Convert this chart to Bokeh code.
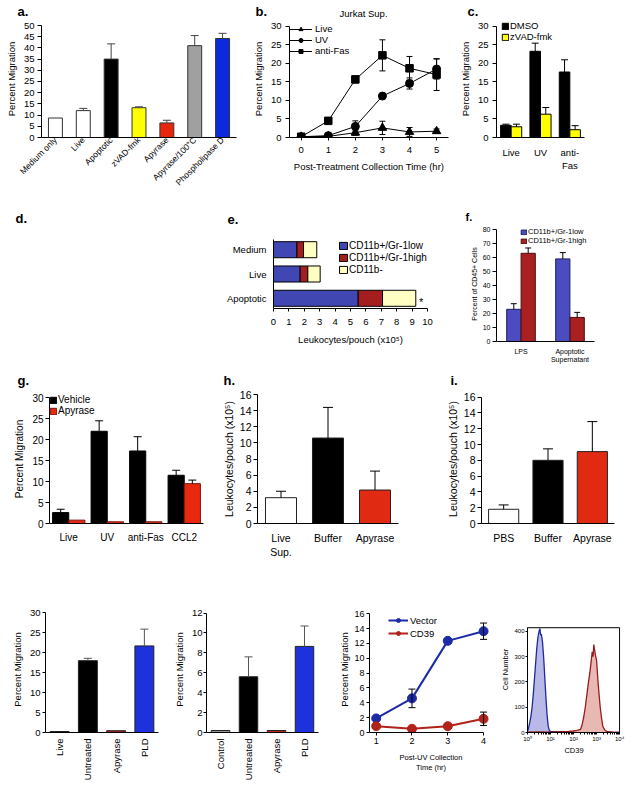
import numpy as np
from math import pi
from bokeh.plotting import figure
from bokeh.models import (ColumnDataSource, FactorRange, Range1d, Whisker, TeeHead, Label,
                          Legend, LegendItem, FixedTicker, BoxAnnotation)
from bokeh.transform import dodge
from bokeh.layouts import row, column
from bokeh.embed import file_html
from bokeh.resources import INLINE
from bokeh.core.properties import value

FONT = "Liberation Sans"

# ---------------- data ----------------
# a
a_cats = ["Medium only", "Live", "Apoptotic", "zVAD-fmk", "Apyrase", "Apyrase/100°C", "Phospholipase D"]
a_vals = [8.7, 12.0, 35.0, 13.3, 6.5, 41.0, 44.2]
a_errs = [0.0, 1.0, 6.8, 0.4, 1.2, 4.5, 2.3]
a_colors = ["white", "white", "black", "#FFFF00", "#E8260C", "#A0A0A0", "#0A2ADB"]
a_yticks = [0, 5, 10, 15, 20, 25, 30, 35, 40, 45, 50]

# b
b_times = [0, 1, 2, 3, 4, 5]
b_live = [0.2, 0.3, 1.3, 2.6, 1.5, 1.7]
b_live_err = [0.1, 0.3, 0.7, 1.8, 1.2, 0.6]
b_uv = [0.2, 0.5, 3.0, 11.2, 14.6, 18.5]
b_uv_err = [0.1, 0.3, 1.5, 0.5, 1.5, 2.7]
b_fas = [0.2, 4.5, 15.7, 22.2, 18.7, 17.0]
b_fas_err = [0.1, 0.6, 0.9, 4.2, 3.2, 4.3]
b_yticks = [0, 5, 10, 15, 20, 25, 30]

# c
c_cats = ["Live", "UV", "anti-\nFas"]
c_dmso = [3.3, 23.3, 17.7]
c_dmso_err = [0.3, 2.2, 3.3]
c_zvad = [2.9, 6.3, 2.1]
c_zvad_err = [0.7, 1.8, 1.1]
c_yticks = [0, 5, 10, 15, 20, 25, 30]

# e
e_cats = ["Medium", "Live", "Apoptotic"]
e_low = [1.52, 1.73, 5.5]
e_high = [0.43, 0.5, 1.58]
e_neg = [0.86, 0.8, 2.16]
e_series = ["CD11b+/Gr-1low", "CD11b+/Gr-1high", "CD11b-"]
e_colors = ["#4046B2", "#A51E1E", "#FFFFC4"]
e_xticks = [0, 1, 2, 3, 4, 5, 6, 7, 8, 9, 10]

# f
f_cats = ["LPS", "Apoptotic\nSupernatant"]
f_low = [23.0, 59.0]
f_low_err = [4.0, 4.5]
f_high = [63.0, 17.2]
f_high_err = [3.8, 3.6]
f_yticks = [0, 10, 20, 30, 40, 50, 60, 70, 80]

# g
g_cats = ["Live", "UV", "anti-Fas", "CCL2"]
g_veh = [2.6, 22.0, 17.3, 11.5]
g_veh_err = [0.8, 2.5, 3.4, 1.2]
g_apy = [0.8, 0.4, 0.4, 9.5]
g_apy_err = [0.0, 0.0, 0.0, 0.85]
g_yticks = [0, 5, 10, 15, 20, 25, 30]

# h
h_cats = ["Live\nSup.", "Buffer", "Apyrase"]
h_vals = [3.2, 10.6, 4.15]
h_errs = [0.8, 3.8, 2.35]
h_colors = ["white", "black", "#E02A12"]
h_yticks = [0, 2, 4, 6, 8, 10, 12, 14, 16]

# i
i_cats = ["PBS", "Buffer", "Apyrase"]
i_vals = [1.8, 8.0, 9.1]
i_errs = [0.55, 1.45, 3.8]
i_colors = ["white", "black", "#E02A12"]
i_yticks = [0, 2, 4, 6, 8, 10, 12, 14, 16]

# bottom 1
k1_cats = ["Live", "Untreated", "Apyrase", "PLD"]
k1_vals = [0.25, 18.0, 0.45, 21.7]
k1_errs = [0.0, 0.6, 0.0, 4.2]
k1_colors = ["#202020", "black", "#B02018", "#1E32DC"]
k1_yticks = [0, 5, 10, 15, 20, 25, 30]

# bottom 2
k2_cats = ["Control", "Untreated", "Apyrase", "PLD"]
k2_vals = [0.2, 5.6, 0.2, 8.65]
k2_errs = [0.0, 2.0, 0.0, 2.05]
k2_colors = ["#9A9A9A", "black", "#C0281E", "#1E32DC"]
k2_yticks = [0, 2, 4, 6, 8, 10, 12]

# bottom 3
k3_times = [1, 2, 3, 4]
k3_vector = [1.9, 4.6, 12.35, 13.65]
k3_vector_err = [0.0, 1.25, 0.0, 1.1]
k3_cd39 = [0.85, 0.5, 0.85, 1.85]
k3_cd39_err = [0.0, 0.0, 0.0, 0.9]
k3_yticks = [0, 2, 4, 6, 8, 10, 12, 14, 16]
k3_xticks = [1, 2, 3, 4]

# bottom 4 (flow histogram; x = log10 CD39 intensity)
hist_blue_x = [0.0, 0.05, 0.1, 0.15, 0.2, 0.25, 0.3, 0.35, 0.4, 0.45, 0.5, 0.54, 0.57, 0.6, 0.65,
               0.7, 0.75, 0.8, 0.85, 0.9, 0.95, 1.0, 1.3, 1.6, 2.0, 2.4, 3.0, 3.5, 4.0]
hist_blue_y = [5, 20, 40, 65, 100, 150, 210, 270, 330, 375, 400, 412, 385, 390, 360,
               300, 220, 140, 70, 25, 8, 4, 3, 2, 2, 1, 1, 0, 0]
hist_red_x = [0.0, 0.5, 1.0, 1.5, 1.8, 2.0, 2.15, 2.3, 2.37, 2.44, 2.51, 2.58, 2.65, 2.72, 2.77,
              2.81, 2.85, 2.88, 2.91, 2.94, 3.0, 3.06, 3.11, 3.16, 3.22, 3.27, 3.33, 3.38, 3.5, 3.7, 4.0]
hist_red_y = [1, 2, 1, 3, 4, 6, 8, 12, 30, 60, 100, 150, 200, 245, 285,
              320, 300, 348, 330, 311, 285, 205, 150, 99, 55, 26, 14, 7, 3, 1, 0]
hist_xlabels = {0: "10⁰", 1: "10¹", 2: "10²", 3: "10³", 4: "10⁴"}
hist_yticks = [0, 100, 200, 300, 400]
hist_xmax = 4
hist_ymax = 415

# ---------------- helpers ----------------


def make_fig(box, frame, x_range, y_range):
    fx0, fy0, fx1, fy1 = box
    lx0, ly0, lx1, ly1 = frame
    p = figure(width=fx1 - fx0, height=fy1 - fy0, x_range=x_range, y_range=y_range,
               min_border_left=lx0 - fx0, min_border_right=fx1 - lx1,
               min_border_top=ly0 - fy0, min_border_bottom=fy1 - ly1,
               output_backend="svg", toolbar_location=None, tools="")
    p.outline_line_color = None
    p.xgrid.visible = False
    p.ygrid.visible = False
    return p


def style(p, fs, tick_out=4, standoff=3, label_standoff=4, label_fs=None):
    for ax in p.axis:
        ax.axis_line_color = "black"
        ax.axis_line_width = 1
        ax.major_tick_line_color = "black"
        ax.major_tick_in = 0
        ax.major_tick_out = tick_out
        ax.minor_tick_line_color = None
        ax.major_label_text_font = FONT
        ax.major_label_text_font_size = f"{fs}px"
        ax.major_label_text_color = "black"
        ax.major_label_standoff = standoff
        ax.axis_label_text_font = FONT
        ax.axis_label_text_font_size = f"{label_fs or fs}px"
        ax.axis_label_text_font_style = "normal"
        ax.axis_label_text_color = "black"
        ax.axis_label_standoff = label_standoff


def add_err(p, xs, vals, errs, offset=0.0, color="black", head=7, both=False, width=1):
    idx = [i for i, e in enumerate(errs) if e > 0]
    src = ColumnDataSource(dict(x=[xs[i] for i in idx],
                                lo=[(vals[i] - errs[i]) if both else vals[i] for i in idx],
                                hi=[vals[i] + errs[i] for i in idx]))
    base = dodge("x", offset, range=p.x_range) if offset else "x"
    w = Whisker(base=base, lower="lo", upper="hi", source=src, line_color=color, line_width=width,
                upper_head=TeeHead(size=head, line_color=color, line_width=width),
                lower_head=TeeHead(size=head, line_color=color, line_width=width) if both else None,
                level="annotation")
    p.add_layout(w)


def legend(p, items, fs, location, glyph_w, glyph_h, label_h, standoff=3, padding=0, spacing=0):
    lg = Legend(items=items, location=location, padding=int(padding), spacing=int(spacing), margin=0,
                glyph_width=int(glyph_w), glyph_height=int(glyph_h), label_height=int(label_h),
                label_standoff=int(standoff),
                label_text_font=FONT, label_text_font_size=f"{fs}px", label_text_color="black",
                border_line_color=None, background_fill_alpha=0)
    p.add_layout(lg)


def strip(width, height, items):
    """A text-only band (panel letters). items: (x, text, font_px, bold, baseline_from_top, align)."""
    s = figure(width=width, height=height, x_range=Range1d(0, width), y_range=Range1d(0, height),
               min_border=0, min_border_left=0, min_border_right=0, min_border_top=0, min_border_bottom=0,
               x_axis_location=None, y_axis_location=None, title=None,
               output_backend="svg", toolbar_location=None, tools="")
    s.outline_line_color = None
    s.xgrid.visible = False
    s.ygrid.visible = False
    for (x, txt, fs, bold, base, align) in items:
        top = max(base - 1.0 * fs, 0.0)
        s.add_layout(Label(x=x, y=height - top, x_units="screen", y_units="screen", text=txt,
                           text_font=FONT, text_font_size=f"{fs}px",
                           text_font_style="bold" if bold else "normal",
                           text_align=align, text_baseline="top", text_color="black"))
    return row(s)


# ======================= ROW 1 (y 0..210) =======================
strip1 = strip(632, 19, [(17, "a.", 13, True, 16.3, "left"),
                         (255, "b.", 13, True, 16.0, "left"),
                         (363, "Jurkat Sup.", 9.5, False, 16.5, "center"),
                         (467, "c.", 13, True, 16.0, "left")])

# panel a
pa = make_fig((0, 19, 245, 210), (41, 20, 236, 137), FactorRange(factors=a_cats), Range1d(0, 52.23))
pa.vbar(x=a_cats, top=a_vals, width=0.5, fill_color=a_colors, line_color="#333333", line_width=1)
add_err(pa, a_cats, a_vals, a_errs, color="#444444", head=8)
style(pa, 9.5, tick_out=4, standoff=3, label_standoff=4)
pa.yaxis.ticker = FixedTicker(ticks=a_yticks)
pa.yaxis.bounds = (0, 50)
pa.yaxis.axis_label = "Percent Migration"
pa.xaxis.major_label_orientation = pi / 4
pa.xaxis.major_tick_out = 0
pa.xaxis.major_label_standoff = 1
pa.xaxis.major_label_text_font_size = "8.5px"
pa.xaxis.major_label_text_line_height = 0.8

# panel b
pb = make_fig((245, 19, 455, 210), (289, 20, 448, 137), Range1d(-0.432, 5.44), Range1d(0, 31.62))
add_err(pb, b_times, b_live, b_live_err, both=True, head=6)
add_err(pb, b_times, b_uv, b_uv_err, both=True, head=6)
add_err(pb, b_times, b_fas, b_fas_err, both=True, head=6)
lb1 = pb.line(b_times, b_live, line_color="black", line_width=1)
sb1 = pb.scatter(b_times, b_live, marker="triangle", size=8.5, color="black")
lb2 = pb.line(b_times, b_uv, line_color="black", line_width=1)
sb2 = pb.scatter(b_times, b_uv, marker="circle", size=8, color="black")
lb3 = pb.line(b_times, b_fas, line_color="black", line_width=1)
sb3 = pb.scatter(b_times, b_fas, marker="square", size=7.5, color="black")
style(pb, 9.5, tick_out=4, standoff=4, label_standoff=4)
pb.yaxis.ticker = FixedTicker(ticks=b_yticks)
pb.yaxis.bounds = (0, 30)
pb.yaxis.axis_label = "Percent Migration"
pb.xaxis.ticker = FixedTicker(ticks=b_times)
pb.xaxis.major_tick_out = 3
pb.xaxis.major_label_standoff = 6
pb.xaxis.axis_label = "Post-Treatment Collection Time (hr)"
pb.xaxis.axis_label_standoff = 5
legend(pb, [LegendItem(label="Live", renderers=[lb1, sb1]),
            LegendItem(label="UV", renderers=[lb2, sb2]),
            LegendItem(label="anti-Fas", renderers=[lb3, sb3])],
       9.5, (0, 81), 23, 10, 10, standoff=3)

# panel c
pc = make_fig((455, 19, 632, 210), (496, 20, 584, 137), FactorRange(factors=c_cats), Range1d(0, 31.62))
src_c = ColumnDataSource(dict(cat=c_cats, dmso=c_dmso, zvad=c_zvad))
rc1 = pc.vbar(x=dodge("cat", -0.18, range=pc.x_range), top="dmso", width=0.36, source=src_c,
              fill_color="black", line_color="black")
rc2 = pc.vbar(x=dodge("cat", 0.18, range=pc.x_range), top="zvad", width=0.36, source=src_c,
              fill_color="#FFFF00", line_color="black")
add_err(pc, c_cats, c_dmso, c_dmso_err, offset=-0.18, head=7)
add_err(pc, c_cats, c_zvad, c_zvad_err, offset=0.18, head=7)
style(pc, 9.5, tick_out=4, standoff=4, label_standoff=4)
pc.yaxis.ticker = FixedTicker(ticks=c_yticks)
pc.yaxis.bounds = (0, 30)
pc.yaxis.axis_label = "Percent Migration"
pc.xaxis.major_tick_out = 0
pc.xaxis.major_label_standoff = 9
legend(pc, [LegendItem(label="DMSO", renderers=[rc1]), LegendItem(label="zVAD-fmk", renderers=[rc2])],
       9.5, (5, 95), 8, 8, 10, standoff=1)

row1 = column(strip1, row(pa, pb, pc))

# ======================= ROW 2 (y 210..368) =======================
strip_de = strip(455, 20, [(15, "d.", 13, True, 11.7, "left"),
                           (227, "e.", 13, True, 17.0, "left")])
pe = make_fig((0, 230, 455, 368), (273, 239, 427, 308), Range1d(0, 10),
              FactorRange(factors=e_cats[::-1], range_padding=-0.0533))
src_e = ColumnDataSource(dict(cat=e_cats, low=e_low, high=e_high, neg=e_neg))
re = pe.hbar_stack(["low", "high", "neg"], y="cat", height=0.66, source=src_e,
                   fill_color=e_colors, line_color="black", line_width=1)
star_x = [e_low[2] + e_high[2] + e_neg[2] + 0.2]
pe.text(x=star_x, y=[e_cats[2]], text=["*"], text_font=value(FONT), text_font_size="11px",
        text_baseline="middle", text_align="left", y_offset=4)
style(pe, 9.5, tick_out=3, standoff=7, label_standoff=6)
pe.xaxis.ticker = FixedTicker(ticks=e_xticks)
pe.xaxis.axis_label = "Leukocytes/pouch (x10⁵)"
pe.yaxis.major_tick_out = 0
pe.yaxis.major_label_standoff = 7
legend(pe, [LegendItem(label=s, renderers=[r]) for s, r in zip(e_series, re)],
       10, (65, 33), 10, 9, 12, standoff=1)
col_de = column(strip_de, pe)

strip_f = strip(177, 14, [(10, "f.", 11, True, 11.7, "left")])
pf = make_fig((455, 224, 632, 368), (496, 226, 594, 341), FactorRange(factors=f_cats), Range1d(0, 82.14))
src_f = ColumnDataSource(dict(cat=f_cats, low=f_low, high=f_high))
rf1 = pf.vbar(x=dodge("cat", -0.147, range=pf.x_range), top="low", width=0.29, source=src_f,
              fill_color="#4A4CC0", line_color="#1E1E5A")
rf2 = pf.vbar(x=dodge("cat", 0.147, range=pf.x_range), top="high", width=0.29, source=src_f,
              fill_color="#A82020", line_color="#4A0E0E")
add_err(pf, f_cats, f_low, f_low_err, offset=-0.147, head=6)
add_err(pf, f_cats, f_high, f_high_err, offset=0.147, head=6)
style(pf, 7, tick_out=4, standoff=2, label_standoff=2)
pf.yaxis.ticker = FixedTicker(ticks=f_yticks)
pf.yaxis.bounds = (0, 80)
pf.yaxis.axis_label = "Percent of CD45+ Cells"
pf.xaxis.major_tick_out = 0
pf.xaxis.major_label_standoff = 6
legend(pf, [LegendItem(label=e_series[0], renderers=[rf1]), LegendItem(label=e_series[1], renderers=[rf2])],
       7.5, (24, 96), 7, 6, 9, standoff=1)
col_f = column(strip_f, pf)

row2 = row(col_de, col_f)

# ======================= ROW 3 (y 368..560) =======================
strip3 = strip(632, 20, [(17, "g.", 13, True, 17.0, "left"),
                         (223, "h.", 13, True, 17.0, "left"),
                         (450, "i.", 13, True, 17.0, "left")])

pg = make_fig((0, 388, 215, 560), (49, 394, 203, 526), FactorRange(factors=g_cats), Range1d(0, 30.77))
src_g = ColumnDataSource(dict(cat=g_cats, veh=g_veh, apy=g_apy))
rg1 = pg.vbar(x=dodge("cat", -0.21, range=pg.x_range), top="veh", width=0.42, source=src_g,
              fill_color="black", line_color="black")
rg2 = pg.vbar(x=dodge("cat", 0.21, range=pg.x_range), top="apy", width=0.42, source=src_g,
              fill_color="#E8280F", line_color="#7A1408")
add_err(pg, g_cats, g_veh, g_veh_err, offset=-0.21, head=8)
add_err(pg, g_cats, g_apy, g_apy_err, offset=0.21, head=8)
style(pg, 10, tick_out=4, standoff=2, label_standoff=4)
pg.yaxis.ticker = FixedTicker(ticks=g_yticks)
pg.yaxis.bounds = (0, 30)
pg.yaxis.axis_label = "Percent Migration"
pg.xaxis.major_tick_out = 0
pg.xaxis.major_label_standoff = 8
legend(pg, [LegendItem(label="Vehicle", renderers=[rg1]), LegendItem(label="Apyrase", renderers=[rg2])],
       10, "top_left", 8, 8, 10, standoff=1, padding=2)

ph = make_fig((215, 388, 420, 560), (257, 394, 398, 526), FactorRange(factors=h_cats), Range1d(0, 16))
ph.vbar(x=h_cats, top=h_vals, width=0.66, fill_color=h_colors, line_color="#222222", line_width=1)
add_err(ph, h_cats, h_vals, h_errs, head=10)
style(ph, 10.5, tick_out=4, standoff=2, label_standoff=2)
ph.yaxis.ticker = FixedTicker(ticks=h_yticks)
ph.yaxis.axis_label = "Leukocytes/pouch (x10⁵)"
ph.xaxis.major_tick_out = 0
ph.xaxis.major_label_standoff = 8

pi_ = make_fig((420, 388, 632, 560), (481, 394, 614, 526), FactorRange(factors=i_cats), Range1d(0, 16.33))
pi_.vbar(x=i_cats, top=i_vals, width=0.68, fill_color=i_colors, line_color="#222222", line_width=1)
add_err(pi_, i_cats, i_vals, i_errs, head=10)
style(pi_, 10.5, tick_out=4, standoff=2, label_standoff=2)
pi_.yaxis.ticker = FixedTicker(ticks=i_yticks)
pi_.yaxis.bounds = (0, 16)
pi_.yaxis.axis_label = "Leukocytes/pouch (x10⁵)"
pi_.xaxis.major_tick_out = 0
pi_.xaxis.major_label_standoff = 8

row3 = column(strip3, row(pg, ph, pi_))

# ======================= ROW 4 (y 560..790) =======================
p1 = make_fig((0, 560, 170, 790), (45, 606, 158, 732), FactorRange(factors=k1_cats), Range1d(0, 31.58))
p1.vbar(x=k1_cats, top=k1_vals, width=0.67, fill_color=k1_colors, line_color="#222222", line_width=1)
add_err(p1, k1_cats, k1_vals, k1_errs, color="#555555", head=8)
style(p1, 9.5, tick_out=3, standoff=2, label_standoff=4)
p1.yaxis.ticker = FixedTicker(ticks=k1_yticks)
p1.yaxis.bounds = (0, 30)
p1.yaxis.axis_label = "Percent Migration"
p1.xaxis.major_tick_out = 0
p1.xaxis.major_label_orientation = pi / 2
p1.xaxis.major_label_standoff = 6
p1.xaxis.major_label_text_line_height = 0.9

p2 = make_fig((170, 560, 330, 790), (203, 606, 318, 732), FactorRange(factors=k2_cats), Range1d(0, 12.66))
p2.vbar(x=k2_cats, top=k2_vals, width=0.66, fill_color=k2_colors, line_color="#222222", line_width=1)
add_err(p2, k2_cats, k2_vals, k2_errs, color="#555555", head=8)
style(p2, 9.5, tick_out=3, standoff=1, label_standoff=4)
p2.yaxis.ticker = FixedTicker(ticks=k2_yticks)
p2.yaxis.bounds = (0, 12)
p2.yaxis.axis_label = "Percent Migration"
p2.xaxis.major_tick_out = 0
p2.xaxis.major_label_orientation = pi / 2
p2.xaxis.major_label_standoff = 6
p2.xaxis.major_label_text_line_height = 0.9

p3 = make_fig((330, 560, 498, 790), (369, 606, 492, 732), Range1d(0.813, 4.25), Range1d(0, 16.98))
add_err(p3, k3_times, k3_vector, k3_vector_err, both=True, head=7)
add_err(p3, k3_times, k3_cd39, k3_cd39_err, both=True, head=7)
l31 = p3.line(k3_times, k3_vector, line_color="#1C2AA6", line_width=2)
s31 = p3.scatter(k3_times, k3_vector, marker="circle", size=9, color="#1C2AA6")
l32 = p3.line(k3_times, k3_cd39, line_color="#B0221A", line_width=2)
s32 = p3.scatter(k3_times, k3_cd39, marker="circle", size=9, color="#B0221A")
style(p3, 9, tick_out=3, standoff=2, label_standoff=1, label_fs=9.5)
p3.yaxis.ticker = FixedTicker(ticks=k3_yticks)
p3.yaxis.bounds = (0, 16)
p3.yaxis.axis_label = "Percent Migration"
p3.xaxis.ticker = FixedTicker(ticks=k3_xticks)
p3.xaxis.bounds = (0.813, 4)
p3.xaxis.axis_label = "Post-UV Collection\nTime (hr)"
p3.xaxis.axis_label_text_font_size = "7.5px"
p3.xaxis.axis_label_standoff = 6
legend(p3, [LegendItem(label="Vector", renderers=[l31, s31]), LegendItem(label="CD39", renderers=[l32, s32])],
       9.5, (19, 92.5), 20, 10, 13, standoff=2)

p4 = make_fig((498, 560, 632, 790), (523, 606, 620, 732), Range1d(0, 4.04), Range1d(0, 499))
p4.varea(x=hist_blue_x, y1=0, y2=hist_blue_y, fill_color="#B9B9E8")
p4.line(hist_blue_x, hist_blue_y, line_color="#1C2A9C", line_width=1.3)
p4.varea(x=hist_red_x, y1=0, y2=hist_red_y, fill_color="#E8B9B2")
p4.line(hist_red_x, hist_red_y, line_color="#9A1A1A", line_width=1.3)
p4.add_layout(BoxAnnotation(left=0, right=hist_xmax, bottom=0, top=hist_ymax, fill_alpha=0,
                            line_color="black", line_width=1, line_alpha=1))
style(p4, 6, tick_out=2, standoff=1, label_standoff=1, label_fs=7.5)
p4.yaxis.ticker = FixedTicker(ticks=hist_yticks)
p4.yaxis.bounds = (0, hist_ymax)
p4.yaxis.axis_label = "Cell Number"
p4.xaxis.ticker = FixedTicker(ticks=list(hist_xlabels.keys()),
                              minor_ticks=[d + float(np.log10(k)) for d in range(4) for k in range(2, 10)])
p4.xaxis.bounds = (0, hist_xmax)
p4.xaxis.minor_tick_line_color = "black"
p4.xaxis.minor_tick_in = 0
p4.xaxis.minor_tick_out = 2
p4.xaxis.major_label_overrides = hist_xlabels
p4.xaxis.axis_label = "CD39"

row4 = row(p1, p2, p3, p4)

layout = column(row1, row2, row3, row4)
open("out.html", "w").write(file_html(layout, INLINE))
